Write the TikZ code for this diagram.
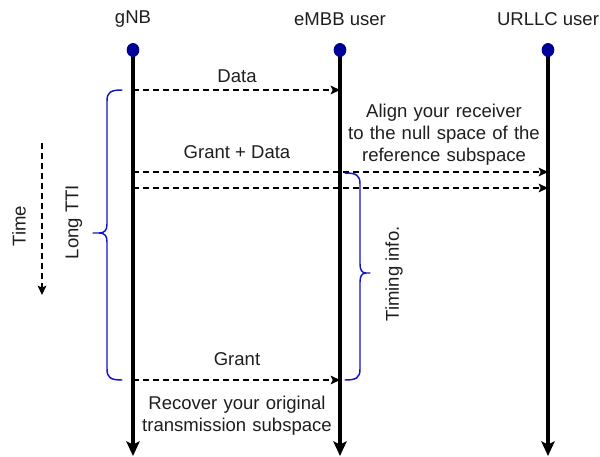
\documentclass[tikz,border=0pt]{standalone}
\usepackage{fontspec}
\setmainfont{Liberation Sans}
\usetikzlibrary{arrows.meta,shapes.geometric}
\definecolor{dotblue}{RGB}{0,0,150}
\definecolor{braceblue}{RGB}{20,20,200}
\definecolor{txt}{RGB}{30,30,30}
\tikzset{
  lbl/.style={font=\fontsize{13.9}{16.5}\selectfont, text=txt, inner sep=0pt, align=center},
  lifeline/.style={line width=2.3pt, -{Stealth[length=11pt,width=10pt,inset=2.5pt]}},
  msg/.style={line width=1.1pt, dash pattern=on 4.5pt off 3pt, -{Stealth[length=7pt,width=6.5pt,inset=1.5pt]}},
  dot/.style={ellipse, fill=dotblue, minimum width=9.5pt, minimum height=10.5pt, inner sep=0pt},
  bracepath/.style={draw=braceblue, line width=1.1pt, line cap=round},
}
\begin{document}
\begin{tikzpicture}[x=0.75pt,y=-0.75pt]
\useasboundingbox (0,0) rectangle (600,457);
% headers
\node[lbl] (hg) at (133,19) {gNB};
\node[lbl] (he) at (340,19) {eMBB user};
\node[lbl] (hu) at (548,19) {URLLC user};
% lifeline ends
\coordinate (gb) at (133,456);
\coordinate (eb) at (340,456);
\coordinate (ub) at (548,456);
\draw[lifeline] (133,50) -- (gb);
\draw[lifeline] (340,50) -- (eb);
\draw[lifeline] (548,50) -- (ub);
\node[dot] (dg) at (133,50) {};
\node[dot] (de) at (340,50) {};
\node[dot] (du) at (548,50) {};
% message endpoints
\coordinate (g1) at (133,90);  \coordinate (e1) at (340,90);
\coordinate (g2) at (133,172); \coordinate (u2) at (548,172);
\coordinate (g3) at (133,188); \coordinate (u3) at (548,188);
\coordinate (g4) at (133,380); \coordinate (e4) at (340,380);
\draw[msg] (g1) -- (e1);
\draw[msg] (g2) -- (u2);
\draw[msg] (g3) -- (u3);
\draw[msg] (g4) -- (e4);
\node[lbl] (ldata) at (237,76) {Data};
\node[lbl] (lgd) at (237,152) {Grant + Data};
\node[lbl] (lgrant) at (237,359) {Grant};
\node[lbl, text width=200pt] (lalign) at (444,135) {Align your receiver\\to the null space of the\\reference subspace};
\node[lbl, text width=200pt] (lrec) at (237,416) {Recover your original\\transmission subspace};
% time arrow
\coordinate (t1) at (42,143);
\coordinate (t2) at (42,295);
\draw[msg] (t1) -- (t2);
\node[lbl, rotate=90] (ltime) at (19,226) {Time};
\node[lbl, rotate=90] (ltti) at (74,222) {Long TTI};
\node[lbl, rotate=90] (ltim) at (394,274) {Timing info.};
% left brace
\draw[bracepath] (122,90) .. controls (111,90) and (107,92) .. (107,101) -- (107,224)
  .. controls (107,230) and (105,233) .. (99,233) -- (93,233)
  (93,233) -- (99,233) .. controls (105,233) and (107,236) .. (107,242) -- (107,369)
  .. controls (107,378) and (111,380) .. (122,380);
% right brace
\draw[bracepath] (345,173) .. controls (356,173) and (360,175) .. (360,184) -- (360,264)
  .. controls (360,270) and (362,273) .. (366,273) -- (370,273)
  (370,273) -- (366,273) .. controls (362,273) and (360,276) .. (360,282) -- (360,369)
  .. controls (360,378) and (356,380) .. (345,380);
\end{tikzpicture}
\end{document}
